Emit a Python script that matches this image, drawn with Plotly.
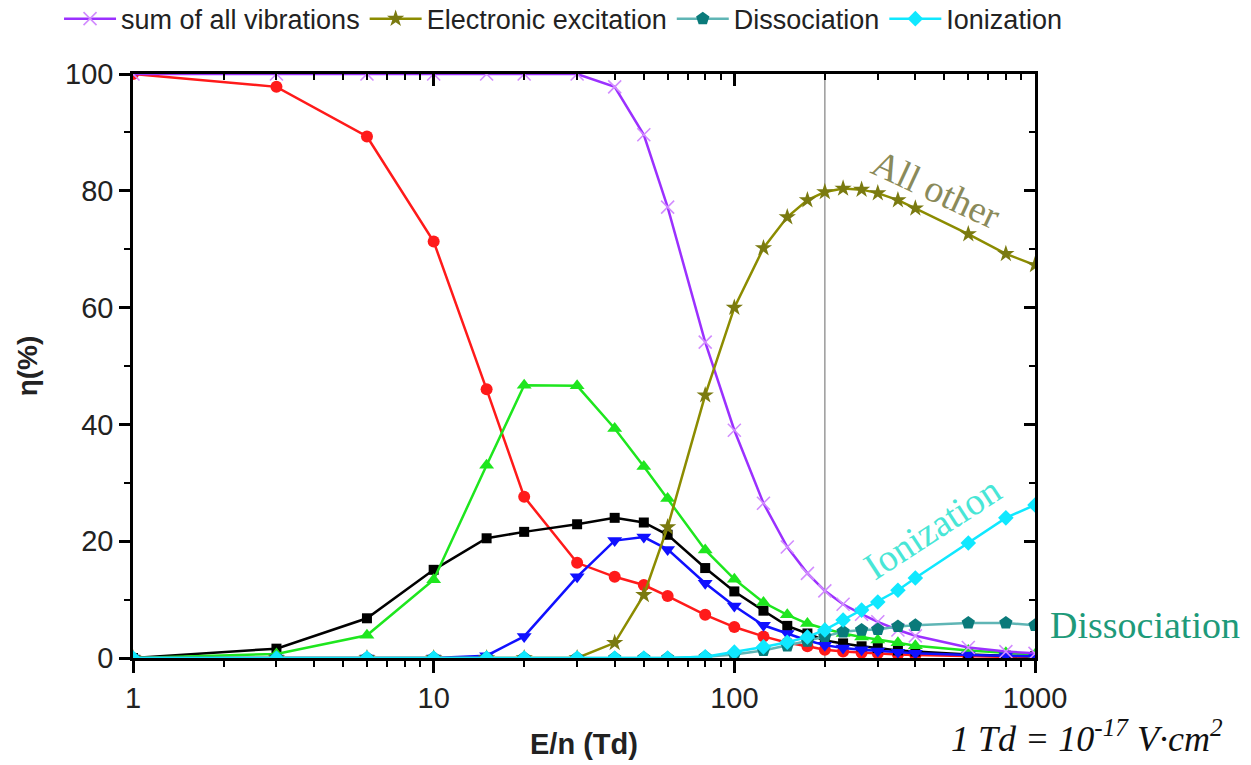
import plotly.graph_objects as go

# Reduced field E/n (Td) at which the energy fractions were computed
en_td = [1, 3, 6, 10, 15, 20, 30, 40, 50, 60, 80, 100, 125, 150, 175, 200,
         230, 265, 300, 350, 400, 600, 800, 1000]

# Fraction of electron power (%) going to each channel
vib_red = [100, 97.8, 89.3, 71.3, 46.0, 27.6, 16.3, 13.9, 12.5, 10.6, 7.4, 5.3,
           3.7, 2.6, 2.0, 1.4, 1.1, 0.9, 0.8, 0.6, 0.5, 0.3, 0.2, 0.1]
vib_black = [0, 1.6, 6.8, 15.1, 20.5, 21.6, 22.9, 24.0, 23.2, 21.1, 15.4, 11.4,
             8.1, 5.5, 4.2, 3.0, 2.5, 2.0, 1.7, 1.3, 1.1, 0.6, 0.4, 0.3]
vib_green = [0, 0.7, 3.9, 13.4, 33.0, 46.7, 46.6, 39.3, 32.8, 27.3, 18.5, 13.5,
             9.5, 7.4, 5.9, 5.0, 4.2, 3.6, 3.1, 2.6, 2.1, 1.3, 0.9, 0.6]
vib_blue = [0, 0, 0, 0, 0.4, 3.7, 13.9, 20.1, 20.7, 18.6, 12.8, 8.9,
            5.6, 4.2, 3.0, 2.2, 1.7, 1.4, 1.2, 1.0, 0.8, 0.5, 0.4, 0.3]
vib_sum = [100, 100, 100, 100, 100, 100, 100, 97.8, 89.6, 77.2, 54.1, 39.0,
           26.5, 19.0, 14.5, 11.5, 9.2, 7.5, 6.2, 4.8, 3.8, 1.8, 1.1, 0.8]
electronic = [0, 0, 0, 0, 0, 0, 0, 2.6, 10.8, 22.4, 45.0, 60.0,
              70.2, 75.5, 78.4, 79.8, 80.4, 80.2, 79.6, 78.4, 77.0, 72.6, 69.2, 67.3]
dissociation = [0, 0, 0, 0, 0, 0, 0, 0, 0, 0, 0.2, 0.6,
                1.3, 2.1, 2.9, 3.7, 4.5, 4.8, 4.9, 5.4, 5.6, 6.0, 6.0, 5.6]
ionization = [0, 0, 0, 0, 0, 0, 0, 0, 0, 0, 0.2, 1.0,
              1.9, 2.7, 3.6, 4.8, 6.5, 8.2, 9.6, 11.6, 13.7, 19.7, 24.0, 26.2]

x_ticks = [1, 10, 100, 1000]
y_ticks = [0, 20, 40, 60, 80, 100]
marker_td = 200

SANS = "Liberation Sans, Arial, sans-serif"
SERIF = "Liberation Serif, Times New Roman, serif"

fig = go.Figure()

def add_series(y, name, line_color, symbol, size, marker_color=None,
               show=True, marker_line=None, axes=("x", "y")):
    marker = dict(symbol=symbol, size=size, color=marker_color or line_color)
    if marker_line:
        marker["line"] = marker_line
    fig.add_trace(go.Scatter(
        x=en_td, y=y, name=name, mode="lines+markers",
        line=dict(color=line_color, width=2.5),
        marker=marker, showlegend=show,
        xaxis=axes[0], yaxis=axes[1],
    ))

add_series(vib_red, "v red", "#ff1a1a", "circle", 12, show=False)
add_series(vib_black, "v black", "#000000", "square", 10, show=False)
add_series(vib_green, "v green", "#1ee61e", "triangle-up", 13, show=False)
add_series(vib_blue, "v blue", "#1010ff", "triangle-down", 13, show=False)
add_series(vib_sum, "sum of all vibrations", "#9b30ff", "x-thin", 13,
           marker_line=dict(width=1.6, color="#d28cff"))
add_series(electronic, "Electronic excitation", "#8c8c00", "star", 13,
           marker_color="#7a7a10")
add_series(dissociation, "Dissociation", "#5fb5b5", "pentagon", 14,
           marker_color="#0a7a7a")
# top-most series sits on the mirrored axes (same ranges) so the frame is drawn
add_series(ionization, "Ionization", "#10e8ff", "diamond", 12,
           axes=("x2", "y2"))

# Reference line at 200 Td
fig.add_shape(type="line", x0=marker_td, x1=marker_td, xref="x",
              y0=0, y1=1, yref="paper",
              line=dict(color="#9a9a9a", width=1.5), layer="below")

tick_font = dict(family=SANS, size=29, color="#222222")

fig.update_layout(
    width=1251, height=765,
    margin=dict(l=133, r=216, t=74, b=107, autoexpand=False),
    paper_bgcolor="white", plot_bgcolor="white",
    showlegend=True,
    legend=dict(orientation="h", x=-0.082, xanchor="left",
                y=1.094, yanchor="middle",
                font=dict(family=SANS, size=27, color="#222222"),
                bgcolor="rgba(0,0,0,0)", itemwidth=52, tracegroupgap=0),
    xaxis=dict(type="log", range=[0, 3], tickvals=x_ticks,
               ticktext=[str(v) for v in x_ticks],
               ticks="outside", ticklen=12, tickwidth=2.5, tickcolor="black",
               minor=dict(ticks="outside", ticklen=6, tickwidth=2,
                          tickcolor="black", dtick="D1", showgrid=False),
               showline=True, linewidth=2.5, linecolor="black",
               showgrid=False, zeroline=False, tickfont=tick_font,
               title=dict(text="E/n (Td)", standoff=22,
                          font=dict(family=SANS, size=29, color="#222222",
                                    weight="bold"))),
    yaxis=dict(range=[0, 100], tickvals=y_ticks,
               ticks="outside", ticklen=11, tickwidth=2.5, tickcolor="black",
               minor=dict(ticks="outside", ticklen=6, tickwidth=2,
                          tickcolor="black", dtick=10, showgrid=False),
               showline=True, linewidth=2.5, linecolor="black",
               showgrid=False, zeroline=False, tickfont=tick_font,
               title=dict(text="η(%)", standoff=20,
                          font=dict(family=SANS, size=28, color="#222222",
                                    weight="bold"))),
    # mirrored frame with inward ticks on top and right
    xaxis2=dict(type="log", range=[0, 3], overlaying="x", side="top",
                tickvals=x_ticks, showticklabels=False,
                ticks="inside", ticklen=12, tickwidth=2.5, tickcolor="black",
                minor=dict(ticks="inside", ticklen=6, tickwidth=2,
                           tickcolor="black", dtick="D1", showgrid=False),
                showline=True, linewidth=2.5, linecolor="black",
                showgrid=False, zeroline=False),
    yaxis2=dict(range=[0, 100], overlaying="y", side="right",
                tickvals=y_ticks, showticklabels=False,
                ticks="inside", ticklen=11, tickwidth=2.5, tickcolor="black",
                minor=dict(ticks="inside", ticklen=6, tickwidth=2,
                           tickcolor="black", dtick=10, showgrid=False),
                showline=True, linewidth=2.5, linecolor="black",
                showgrid=False, zeroline=False),
)

annotations = [
    dict(text="All other", x=0.890, y=0.803, textangle=25,
         font=dict(family=SERIF, size=38, color="#8a8a5a")),
    dict(text="Ionization", x=0.886, y=0.223, textangle=-33,
         font=dict(family=SERIF, size=38, color="#48e6d6")),
    dict(text="Dissociation", x=1.122, y=0.0565,
         font=dict(family=SERIF, size=38, color="#1e9a7a")),
    dict(text="<i>1 Td = 10<sup>-17</sup> V·cm<sup>2</sup></i>",
         x=1.058, y=-0.135,
         font=dict(family=SERIF, size=36, color="#111111")),
]
for a in annotations:
    fig.add_annotation(xref="paper", yref="paper", showarrow=False,
                       xanchor="center", yanchor="middle", **a)

fig.write_html("out.html")
